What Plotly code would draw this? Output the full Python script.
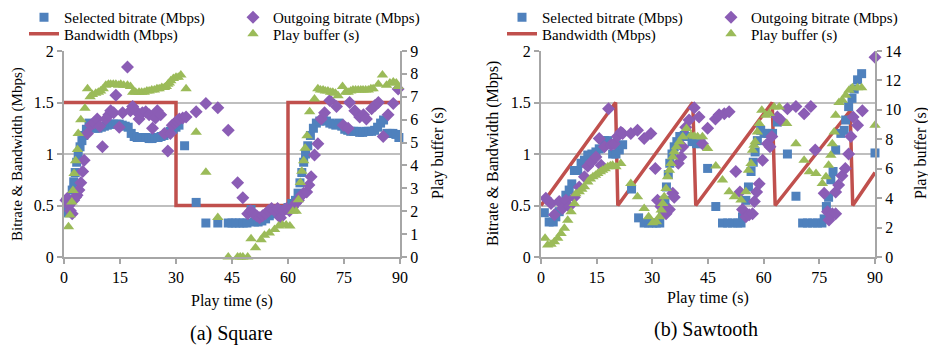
import plotly.graph_objects as go

# ---------------- (a) Square ----------------
sq_bw_t = [0, 30, 30, 60, 60, 90]
sq_bw = [1.5, 1.5, 0.5, 0.5, 1.5, 1.5]

sq_sel_t = [0.7, 1.2, 1.7, 2.2, 2.6, 3.0, 3.4, 3.8, 4.3, 4.8, 5.3, 6.0, 6.7, 7.5, 8.3, 9.1, 10.0, 10.8,
            11.6, 12.4, 13.2, 14.0, 14.8, 15.6, 16.4, 17.2, 18.0, 18.8, 19.6, 20.4, 21.2, 22.0, 22.8,
            23.6, 24.4, 25.2, 26.0, 26.8, 27.6, 28.4, 29.2, 30.0, 30.8, 32.3, 35.4, 38.0, 41.2, 44.0,
            45.0, 46.0, 47.0, 48.0, 49.0, 50.1, 51.0, 52.0, 53.0, 54.0, 55.0, 56.0, 57.0, 58.0, 59.0,
            60.0, 61.0, 62.0, 62.7, 63.2, 63.7, 64.2, 64.7, 65.3, 66.0, 66.8, 67.6, 68.5, 69.4, 70.3,
            71.2, 72.0, 72.8, 73.6, 74.4, 75.2, 76.0, 76.8, 77.6, 78.4, 79.2, 80.0, 80.8, 81.6, 82.4,
            83.2, 84.0, 84.8, 85.6, 86.5, 87.3, 88.1, 88.9, 89.7]
sq_sel = [0.43, 0.47, 0.55, 0.65, 0.73, 0.82, 0.92, 1.0, 1.07, 1.13, 1.18, 1.24, 1.3, 1.27, 1.25, 1.25,
          1.26, 1.27, 1.28, 1.29, 1.29, 1.29, 1.29, 1.28, 1.27, 1.26, 1.2, 1.17, 1.16, 1.16, 1.16, 1.16,
          1.15, 1.15, 1.16, 1.16, 1.17, 1.18, 1.2, 1.22, 1.24, 1.26, 1.28, 1.08, 0.53, 0.33, 0.33, 0.33,
          0.33, 0.33, 0.33, 0.33, 0.33, 0.46, 0.34, 0.34, 0.35, 0.37, 0.4, 0.42, 0.43, 0.44, 0.46,
          0.48, 0.52, 0.55, 0.62, 0.72, 0.82, 0.92, 1.0, 1.08, 1.18, 1.25, 1.3, 1.32, 1.33, 1.32,
          1.3, 1.29, 1.28, 1.3, 1.27, 1.24, 1.23, 1.22, 1.22, 1.22, 1.21, 1.21, 1.22, 1.22, 1.22,
          1.23, 1.26, 1.3, 1.33, 1.2, 1.2, 1.2, 1.19, 1.16]

sq_out_t = [0.5, 0.9, 1.3, 1.7, 2.2, 2.6, 3.1, 3.5, 4.0, 4.5, 5.0, 5.4, 6.3, 7.2, 8.0, 8.9, 9.6, 10.3,
            11.2, 12.0, 12.5, 13.3, 13.9, 14.8, 15.7, 17.0, 17.8, 18.4, 19.2, 20.1, 21.0, 21.9, 22.8,
            23.7, 24.5, 25.0, 25.9, 26.9, 27.8, 28.5, 29.0, 29.7, 30.3, 30.9, 31.8, 32.7, 35.4, 38.0,
            41.2, 44.0, 46.5, 47.9, 49.2, 50.0, 50.8, 51.6, 52.4, 53.2, 54.0, 54.8, 55.6, 56.4, 57.2,
            58.0, 58.8, 59.6, 60.4, 61.2, 62.0, 62.8, 63.6, 64.2, 65.0, 65.6, 66.2, 67.1, 68.0, 68.9,
            69.8, 71.2, 73.0, 74.8, 76.1, 76.5, 77.9, 79.2, 80.2, 81.0, 82.4, 83.3, 84.2, 85.5, 86.8,
            88.2, 89.5]
sq_out = [0.55, 0.57, 0.5, 0.45, 0.42, 0.55, 0.58, 0.6, 0.65, 0.72, 0.83, 0.94, 1.2, 1.28, 1.3, 1.34,
          1.27, 1.07, 1.34, 1.38, 1.42, 1.4, 1.57, 1.26, 1.4, 1.845, 1.42, 1.46, 1.42, 1.34, 1.4, 1.41,
          1.38, 1.25, 1.35, 1.42, 1.38, 1.2, 1.03, 1.2, 1.28, 1.3, 1.32, 1.34, 1.35, 1.36, 1.41, 1.49,
          1.45, 1.23, 0.72, 0.575, 0.42, 0.45, 0.42, 0.4, 0.38, 0.4, 0.42, 0.45, 0.47, 0.45, 0.47,
          0.38, 0.45, 0.47, 0.45, 0.48, 0.52, 0.55, 0.6, 0.62, 0.63, 0.7, 0.78, 0.99, 1.1, 1.34,
          1.4, 1.52, 1.46, 1.28, 1.25, 1.5, 1.42, 1.36, 1.38, 1.34, 1.44, 1.47, 1.5, 1.17, 1.38,
          1.49, 1.63]

sq_buf_t = [1.2, 1.6, 2.1, 2.4, 2.7, 3.1, 3.6, 3.8, 4.5, 5.6, 6.3, 7.0, 7.6, 8.5, 9.2, 9.8, 10.5, 11.2,
            11.9, 12.5, 13.2, 13.9, 14.6, 15.2, 16.0, 17.0, 17.8, 18.4, 19.2, 20.1, 20.8, 21.5, 22.2,
            22.8, 23.5, 24.2, 24.9, 25.5, 26.2, 26.9, 27.4, 27.8, 28.2, 28.6, 29.3, 30.0, 30.6, 31.3,
            32.7, 35.4, 38.0, 41.2, 44.0, 46.5, 47.2, 47.9, 49.2, 50.1, 51.3, 52.8, 53.7, 55.0, 56.4,
            57.5, 58.5, 59.5, 60.5, 61.3, 62.2, 62.8, 63.3, 63.7, 64.2, 64.6, 65.1, 65.8, 67.1, 68.0,
            68.7, 69.4, 70.0, 70.7, 71.4, 72.0, 72.7, 73.4, 74.6, 75.4, 76.1, 76.8, 77.4, 78.1, 78.8,
            79.5, 80.1, 80.8, 81.5, 82.2, 82.8, 84.2, 85.3, 86.4, 87.3, 88.2, 89.0, 89.5]
sq_buf = [1.32, 1.83, 2.4, 2.9, 3.65, 4.2, 4.7, 5.4, 6.0, 6.5, 7.35, 7.0, 7.1, 7.15, 7.2, 7.25, 7.35,
          7.5, 7.55, 7.55, 7.55, 7.55, 7.5, 7.55, 7.5, 7.5, 7.45, 7.2, 7.2, 7.2, 7.2, 7.2, 7.25, 7.25,
          7.3, 7.3, 7.35, 7.35, 7.4, 7.4, 7.45, 7.55, 7.6, 7.7, 7.8, 7.85, 7.85, 7.95, 7.35, 5.45,
          3.7, 1.73, 0, 0, 0, 0, 0, 0.8, 0.4, 0.75, 0.95, 1.05, 1.2, 1.35, 1.4, 1.4, 1.35, 2.0, 2.0,
          2.5, 3.25, 3.75, 4.2, 4.75, 5.3, 6.35, 6.9, 7.35, 7.3, 7.3, 7.25, 7.25, 7.2, 7.2, 7.15,
          7.05, 7.45, 7.2, 7.2, 7.25, 7.3, 7.3, 7.3, 7.3, 7.3, 7.3, 7.3, 7.35, 7.35, 7.55, 7.95,
          7.5, 7.6, 7.65, 7.6, 7.45]

# ---------------- (b) Sawtooth ----------------
st_bw_t = [0, 20.1, 20.7, 40.9, 41.7, 62.3, 63.1, 83.3, 84.0, 90]
st_bw = [0.5, 1.5, 0.5, 1.5, 0.5, 1.5, 0.5, 1.42, 0.5, 0.82]

st_sel_t = [0.9, 2.2, 3.3, 4.0, 4.9, 6.0, 6.7, 7.6, 8.3, 9.0, 9.9, 10.8, 11.7, 12.6, 13.7, 14.8, 15.7,
            17.1, 18.0, 19.3, 20.2, 21.1, 22.0, 24.4, 26.3, 27.8, 29.0, 30.1, 31.1, 32.0, 32.8, 33.4,
            33.8, 34.3, 34.7, 35.3, 35.9, 36.6, 37.4, 38.6, 39.5, 40.7, 41.9, 43.1, 44.9, 47.1, 48.9,
            50.3, 51.6, 53.0, 53.9, 54.3, 55.2, 55.9, 56.6, 57.2, 57.7, 58.3, 59.2, 60.1, 61.2, 62.4,
            63.7, 66.4, 68.7, 70.5, 71.8, 73.2, 74.5, 75.7, 76.3, 76.9, 77.5, 78.1, 78.7, 79.4, 80.8,
            81.7, 82.1, 82.9, 83.8, 84.4, 85.3, 86.4, 90.0]
st_sel = [0.43, 0.34, 0.34, 0.39, 0.44, 0.52, 0.6, 0.65, 0.71, 0.84, 0.84, 0.91, 0.94, 0.99, 1.0, 1.02,
          1.05, 1.13, 1.13, 1.0, 1.0, 1.04, 1.09, 0.66, 0.38, 0.33, 0.33, 0.33, 0.33, 0.33, 0.42, 0.55,
          0.68, 0.8, 0.91, 1.0, 1.07, 1.12, 1.17, 1.18, 1.17, 1.12, 1.1, 1.1, 0.86, 0.49, 0.33, 0.33,
          0.33, 0.33, 0.33, 0.39, 0.55, 0.68, 0.83, 0.92, 1.02, 1.13, 1.23, 1.2, 1.2, 1.2, 1.31, 1.0,
          0.59, 0.33, 0.33, 0.33, 0.33, 0.33, 0.37, 0.49, 0.58, 0.75, 0.83, 1.04, 1.2, 1.23, 1.33,
          1.46, 1.54, 1.63, 1.72, 1.78, 1.01]

st_out_t = [1.3, 2.7, 3.6, 4.9, 5.8, 6.7, 7.6, 9.0, 10.3, 11.7, 12.6, 13.5, 14.8, 15.7, 16.2, 17.1,
            18.2, 18.9, 19.7, 20.6, 21.5, 22.0, 24.2, 26.0, 27.8, 29.6, 30.8, 31.4, 32.3, 33.7, 34.6,
            35.5, 35.9, 37.0, 37.7, 38.2, 39.0, 39.9, 41.3, 42.6, 43.5, 44.9, 47.0, 48.0, 49.4, 50.7,
            52.5, 53.6, 54.3, 55.2, 56.1, 57.0, 57.5, 58.1, 58.8, 59.7, 61.0, 61.7, 62.2, 63.7, 64.6,
            66.4, 68.7, 70.9, 72.7, 73.9, 76.3, 77.2, 77.6, 78.5, 79.4, 79.4, 80.2, 81.1, 82.0, 82.9,
            83.5, 84.1, 85.3, 86.6, 90.0]
st_out = [0.57, 0.52, 0.41, 0.54, 0.47, 0.55, 0.49, 0.58, 0.68, 0.78, 0.88, 0.92, 0.97, 1.15, 0.89,
          1.07, 1.44, 1.09, 1.1, 1.17, 1.21, 1.2, 1.2, 1.23, 1.15, 1.2, 0.86, 0.55, 0.49, 0.42, 0.46,
          0.62, 0.58, 0.91, 0.97, 1.07, 1.26, 1.33, 1.45, 1.36, 1.1, 1.25, 1.34, 1.38, 1.39, 1.41,
          0.83, 0.63, 0.46, 0.39, 0.41, 0.42, 0.54, 0.63, 0.71, 0.94, 1.1, 1.07, 1.17, 1.36, 1.33,
          1.44, 1.46, 1.39, 1.46, 1.04, 0.62, 0.44, 0.36, 0.42, 0.42, 0.63, 0.7, 0.79, 0.86, 1.0,
          1.17, 1.36, 1.28, 1.42, 1.94]

st_buf_t = [1.1, 1.8, 2.7, 3.6, 4.5, 5.4, 6.3, 7.2, 8.1, 9.0, 9.4, 10.3, 11.0, 11.7, 12.6, 13.3, 14.0,
            14.7, 15.3, 16.0, 16.6, 17.3, 18.0, 18.7, 19.3, 20.2, 21.5, 24.2, 26.0, 27.8, 29.0, 30.1,
            31.1, 31.9, 32.4, 32.8, 33.2, 33.7, 34.1, 34.6, 35.0, 35.5, 35.9, 36.5, 37.3, 38.2, 39.2,
            40.4, 41.3, 42.2, 43.5, 44.9, 47.1, 48.9, 50.7, 52.1, 53.9, 55.2, 55.9, 56.6, 57.0, 57.4,
            57.7, 58.3, 58.8, 59.5, 60.6, 61.5, 62.8, 64.2, 66.2, 68.7, 70.9, 72.3, 74.1, 75.8, 76.8,
            77.5, 78.1, 78.5, 79.0, 79.4, 80.3, 81.2, 82.1, 83.0, 83.9, 85.3, 86.4, 90.0]
st_buf = [1.27, 0.81, 0.86, 1.04, 1.27, 1.6, 1.95, 2.5, 3.08, 3.64, 4.3, 4.43, 4.6, 4.77, 5.1, 5.3,
          5.45, 5.55, 5.68, 5.8, 5.9, 6.0, 6.13, 6.2, 6.24, 6.13, 6.36, 5.0, 4.1, 3.3, 2.74, 2.33,
          2.4, 2.74, 3.2, 3.64, 4.1, 4.66, 5.45, 5.9, 6.36, 6.8, 7.15, 7.5, 7.83, 8.17, 8.73, 8.28,
          8.2, 8.17, 8.17, 7.38, 6.18, 5.23, 4.43, 4.1, 3.87, 4.43, 5.9, 6.36, 7.26, 7.6, 7.83, 8.5,
          9.07, 9.98, 9.64, 9.75, 10.2, 10.2, 9.07, 7.7, 6.58, 5.79, 5.68, 5.0, 5.45, 6.24, 6.92,
          7.7, 8.5, 9.64, 10.5, 10.65, 11.0, 11.33, 11.5, 11.5, 11.5, 8.96]

x_ticks = [0, 15, 30, 45, 60, 75, 90]
y_ticks = [0, 0.5, 1, 1.5, 2]
y_ticktext = ["0", "0.5", "1", "1.5", "2"]

BLUE = "#4F81BD"
PURPLE = "#8B5DB5"
GREEN = "#9BBB59"
RED = "#C0504D"
FONT = "'Liberation Serif', 'Times New Roman', 'DejaVu Serif', serif"

# The page body has an 8px default margin, so the figure is drawn 8px in from the corner.
OFF = 8
W, H = 936 - OFF, 348 - OFF


def px(xp):
    return (xp - OFF) / W


def py(yp):
    return 1 - (yp - OFF) / H


fig = go.Figure()


def add_panel(xa, ya, ya2, bw_t, bw, sel_t, sel, out_t, out, buf_t, buf, lg1, lg2):
    fig.add_trace(go.Scatter(x=bw_t, y=bw, mode="lines", name="Bandwidth (Mbps)",
                             line=dict(color=RED, width=3.5), xaxis=xa, yaxis=ya, legend=lg2))
    fig.add_trace(go.Scatter(x=sel_t, y=sel, mode="markers", name="Selected bitrate (Mbps)",
                             marker=dict(symbol="square", size=9, color=BLUE), cliponaxis=False,
                             xaxis=xa, yaxis=ya, legend=lg1))
    fig.add_trace(go.Scatter(x=out_t, y=out, mode="markers", name="Outgoing bitrate (Mbps)",
                             marker=dict(symbol="diamond", size=10, color=PURPLE), cliponaxis=False,
                             xaxis=xa, yaxis=ya, legend=lg1))
    fig.add_trace(go.Scatter(x=buf_t, y=buf, mode="markers", name="Play buffer (s)",
                             marker=dict(symbol="triangle-up", size=10, color=GREEN), cliponaxis=False,
                             xaxis=xa, yaxis=ya2, legend=lg2))


add_panel("x", "y", "y2", sq_bw_t, sq_bw, sq_sel_t, sq_sel, sq_out_t, sq_out, sq_buf_t, sq_buf,
          "legend", "legend2")
add_panel("x2", "y3", "y4", st_bw_t, st_bw, st_sel_t, st_sel, st_out_t, st_out, st_buf_t, st_buf,
          "legend3", "legend4")

ydom = [py(257), py(51)]
axis_common = dict(showline=True, linecolor="#A6A6A6", linewidth=2, ticks="outside", ticklen=5,
                   tickcolor="#A6A6A6", tickwidth=1.5, zeroline=False,
                   tickfont=dict(family=FONT, size=16, color="black"))

xcfg = dict(range=[0, 90], tickvals=x_ticks, showgrid=False, **axis_common)
ycfg = dict(range=[0, 2], tickvals=y_ticks, ticktext=y_ticktext, showgrid=True, gridcolor="#BFBFBF",
            gridwidth=2, domain=ydom, **axis_common)

leg_common = dict(orientation="h", entrywidth=164, entrywidthmode="pixels", bgcolor="rgba(0,0,0,0)",
                  font=dict(family=FONT, size=15, color="black"), xanchor="left", yanchor="middle",
                  borderwidth=0, itemclick=False)

fig.update_layout(
    width=W, height=H, margin=dict(l=0, r=0, t=0, b=0, autoexpand=False),
    paper_bgcolor="white", plot_bgcolor="white",
    xaxis=dict(domain=[px(64), px(400)], anchor="y", **xcfg),
    yaxis=dict(anchor="x", **ycfg),
    yaxis2=dict(overlaying="y", side="right", anchor="x", range=[0, 9], dtick=1, showgrid=False,
                **axis_common),
    xaxis2=dict(domain=[px(541), px(875)], anchor="y3", **xcfg),
    yaxis3=dict(anchor="x2", **ycfg),
    yaxis4=dict(overlaying="y3", side="right", anchor="x2", range=[0, 14], dtick=2, showgrid=False,
                **axis_common),
    legend=dict(x=px(24), y=py(17.5), **leg_common),
    legend2=dict(x=px(24), y=py(34), **leg_common),
    legend3=dict(x=px(502), y=py(17.5), **leg_common),
    legend4=dict(x=px(502), y=py(34), **leg_common),
    showlegend=True,
)

annots = [
    dict(text="Bitrate & Bandwidth (Mbps)", x=px(17), y=py(154), textangle=-90, size=15),
    dict(text="Play buffer (s)", x=px(438), y=py(153), textangle=-90, size=16),
    dict(text="Bitrate & Bandwidth (Mbps)", x=px(493), y=py(154), textangle=-90, size=16),
    dict(text="Play buffer (s)", x=px(921), y=py(153), textangle=-90, size=16),
    dict(text="Play time (s)", x=px(232), y=py(301), textangle=0, size=16),
    dict(text="Play time (s)", x=px(708), y=py(298), textangle=0, size=16),
    dict(text="(a) Square", x=px(231), y=py(333), textangle=0, size=20),
    dict(text="(b) Sawtooth", x=px(706), y=py(329), textangle=0, size=20),
]
for a in annots:
    fig.add_annotation(text=a["text"], x=a["x"], y=a["y"], xref="paper", yref="paper",
                       xanchor="center", yanchor="middle", showarrow=False, textangle=a["textangle"],
                       font=dict(family=FONT, size=a["size"], color="black"))

fig.write_html("out.html")
